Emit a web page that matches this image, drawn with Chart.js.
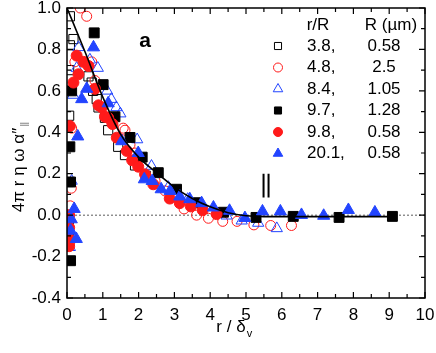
<!DOCTYPE html>
<html>
<head>
<meta charset="utf-8">
<script src="https://cdn.jsdelivr.net/npm/chart.js@4.4.0/dist/chart.umd.min.js"></script>
<style>
html, body { margin: 0; padding: 0; background: #fff; }
#wrap { width: 436px; height: 353px; }
</style>
</head>
<body>
<div id="wrap"><canvas id="chart1"></canvas></div>
<script>
// axis ticks
const xTicks = [0, 1, 2, 3, 4, 5, 6, 7, 8, 9, 10];
const yTicks = [-0.4, -0.2, 0.0, 0.2, 0.4, 0.6, 0.8, 1.0];

// legend text
const ratioLabels = ['3.8,', '4.8,', '8.4,', '9.7,', '9.8,', '20.1,'];
const radiusLabels = ['0.58', '2.5', '1.05', '1.28', '0.58', '0.58'];

// r/R = 3.8 (open squares)
const openSqX = [0.08, 0.18, 0.08, 0.06, 0.60, 0.69, 0.73, 0.83, 0.88, 0.06, 1.06, 1.15, 1.43, 1.62, 1.90, 2.20, 0.05, 0.05, 0.05];
const openSqY = [0.96, 0.85, 0.82, 0.70, 0.67, 0.64, 0.60, 0.56, 0.52, 0.48, 0.47, 0.41, 0.33, 0.29, 0.24, 0.19, 0.16, -0.02, -0.10];

// r/R = 4.8 (open circles)
const openCircX = [0.37, 0.55, 0.22, 0.69, 0.78, 1.57, 1.62, 1.76, 1.90, 2.46, 2.74, 3.27, 3.62, 3.95, 4.35, 4.75, 5.22, 5.69, 6.27, 0.13, 0.12, 0.09, 0.08];
const openCircY = [1.00, 0.96, 0.74, 0.74, 0.65, 0.42, 0.41, 0.34, 0.30, 0.165, 0.117, 0.03, 0.0, -0.015, -0.03, -0.03, -0.047, -0.05, -0.05, 0.42, 0.13, 0.045, -0.13];

// r/R = 8.4 (open triangles)
const openTriX = [0.32, 0.64, 0.86, 0.27, 0.17, 1.12, 1.24, 1.38, 1.49, 1.96, 2.36, 2.83, 3.37, 4.46, 4.88, 5.34, 5.86, 0.13, 0.08];
const openTriY = [0.81, 0.75, 0.71, 0.71, 0.58, 0.60, 0.56, 0.52, 0.49, 0.365, 0.237, 0.135, 0.077, -0.003, -0.027, -0.038, -0.064, 0.165, -0.155];

// r/R = 9.7 (filled squares)
const fillSqX = [0.76, 1.01, 1.34, 1.76, 2.10, 2.55, 3.06, 3.62, 4.37, 5.28, 6.32, 7.60, 9.09, 0.13, 0.08, 0.10, 0.10];
const fillSqY = [0.88, 0.63, 0.475, 0.375, 0.28, 0.205, 0.125, 0.06, 0.014, -0.011, -0.006, -0.011, -0.006, 0.60, 0.33, 0.16, -0.22];

// r/R = 9.8 (filled circles)
const fillCircX = [0.27, 0.46, 0.60, 0.32, 0.18, 0.78, 0.88, 0.97, 1.06, 1.15, 1.27, 1.39, 1.67, 1.82, 1.99, 2.18, 2.41, 2.87, 3.15, 3.46, 3.79, 4.18, 0.08, 0.06, 0.06, 0.07, 0.06];
const fillCircY = [0.77, 0.74, 0.72, 0.68, 0.64, 0.61, 0.53, 0.52, 0.475, 0.47, 0.44, 0.374, 0.31, 0.265, 0.234, 0.197, 0.149, 0.08, 0.058, 0.042, 0.024, 0.005, 0.43, 0.0, -0.06, -0.115, -0.15];

// r/R = 20.1 (filled triangles)
const fillTriX = [0.74, 0.55, 0.41, 1.15, 1.53, 1.99, 0.30, 2.16, 2.38, 2.63, 2.88, 3.15, 3.43, 3.76, 4.09, 4.54, 4.97, 5.46, 5.96, 6.55, 7.17, 7.86, 8.60, 0.20, 0.12, 0.10, 0.26];
const fillTriY = [0.81, 0.61, 0.56, 0.54, 0.357, 0.30, 0.38, 0.173, 0.165, 0.125, 0.117, 0.09, 0.077, 0.058, 0.037, 0.021, -0.014, 0.018, 0.018, 0.001, -0.003, 0.025, 0.013, 0.03, -0.02, -0.075, -0.115];

// theory curve
const fitX = [0, 0.5, 1, 1.5, 2, 2.5, 3, 3.5, 4, 4.5, 5, 5.5, 6, 7, 8, 9.1];
const fitY = [1.0, 0.79, 0.57, 0.39, 0.28, 0.205, 0.135, 0.08, 0.04, 0.012, -0.003, -0.007, -0.007, -0.007, -0.007, -0.007];

const RED = '#ff1a1a';
const BLUE = '#2244ff';

function pts(xs, ys) {
    return xs.map((x, i) => ({ x: x, y: ys[i] }));
}

const markers = [
    { style: 'rect', color: '#000', fill: false, r: 6.5, lr: 5 },
    { style: 'circle', color: RED, fill: false, r: 5, lr: 4.5 },
    { style: 'triangle', color: BLUE, fill: false, r: 6.5, lr: 5.5 },
    { style: 'rect', color: '#000', fill: true, r: 7, lr: 5 },
    { style: 'circle', color: RED, fill: true, r: 5.5, lr: 4.5 },
    { style: 'triangle', color: BLUE, fill: true, r: 7, lr: 5.5 }
];
const series = [
    pts(openSqX, openSqY), pts(openCircX, openCircY), pts(openTriX, openTriY),
    pts(fillSqX, fillSqY), pts(fillCircX, fillCircY), pts(fillTriX, fillTriY)
];

const datasets = series.map((d, i) => ({
    type: 'scatter',
    data: d,
    pointStyle: markers[i].style,
    pointRadius: markers[i].r,
    pointBorderWidth: 1,
    borderColor: markers[i].color,
    backgroundColor: markers[i].fill ? markers[i].color : 'rgba(0,0,0,0)',
    order: 6 - i
}));
datasets.push({
    type: 'line',
    data: pts(fitX, fitY),
    borderColor: '#000',
    borderWidth: 1.6,
    pointRadius: 0,
    cubicInterpolationMode: 'monotone',
    fill: false,
    order: 0
});

const FONT = '"Liberation Sans", Arial, sans-serif';

const decor = {
    id: 'decor',
    beforeDatasetsDraw(chart) {
        const c = chart.ctx, a = chart.chartArea;
        const ys = chart.scales.y;
        // dashed zero line
        c.save();
        c.strokeStyle = '#333';
        c.lineWidth = 0.8;
        c.setLineDash([2, 2]);
        c.beginPath();
        c.moveTo(a.left, ys.getPixelForValue(0));
        c.lineTo(a.right, ys.getPixelForValue(0));
        c.stroke();
        c.restore();
    },
    afterDraw(chart) {
        const c = chart.ctx, a = chart.chartArea;
        const xs = chart.scales.x, ys = chart.scales.y;
        c.save();
        // frame
        c.strokeStyle = '#000';
        c.lineWidth = 1.5;
        c.strokeRect(a.left, a.top, a.right - a.left, a.bottom - a.top);
        // inward ticks
        c.lineWidth = 1.2;
        c.beginPath();
        for (let v = 0; v <= 10.001; v += 0.5) {
            const px = xs.getPixelForValue(v);
            const len = Math.abs(v - Math.round(v)) < 0.01 ? 6 : 4;
            c.moveTo(px, a.bottom); c.lineTo(px, a.bottom - len);
            c.moveTo(px, a.top); c.lineTo(px, a.top + len);
        }
        for (let k = -4; k <= 10; k++) {
            const py = ys.getPixelForValue(k / 10);
            const len = k % 2 === 0 ? 6 : 4;
            c.moveTo(a.left, py); c.lineTo(a.left + len, py);
            c.moveTo(a.right, py); c.lineTo(a.right - len, py);
        }
        c.stroke();

        // panel label
        c.fillStyle = '#000';
        c.font = 'bold 21px ' + FONT;
        c.textAlign = 'center';
        c.textBaseline = 'middle';
        c.fillText('a', xs.getPixelForValue(2.18), ys.getPixelForValue(0.84));

        // || mark
        c.lineWidth = 2;
        c.beginPath();
        const bx = xs.getPixelForValue(5.56);
        c.moveTo(bx - 2.5, ys.getPixelForValue(0.2)); c.lineTo(bx - 2.5, ys.getPixelForValue(0.085));
        c.moveTo(bx + 2.5, ys.getPixelForValue(0.2)); c.lineTo(bx + 2.5, ys.getPixelForValue(0.085));
        c.stroke();

        // legend
        c.font = '17px ' + FONT;
        c.textBaseline = 'middle';
        c.textAlign = 'center';
        c.fillText('r/R', 318, 25);
        c.fillText('R (\u00b5m)', 391, 25);
        for (let i = 0; i < ratioLabels.length; i++) {
            const y = 46 + i * 21.5;
            const m = markers[i];
            c.save();
            c.strokeStyle = m.color;
            c.fillStyle = m.fill ? m.color : 'rgba(0,0,0,0)';
            c.lineWidth = 1;
            Chart.helpers.drawPoint(c, { pointStyle: m.style, radius: m.lr, borderWidth: 1 }, 278, y);
            c.restore();
            c.fillStyle = '#000';
            c.textAlign = 'left';
            c.fillText(ratioLabels[i], 307, y);
            c.textAlign = 'center';
            c.fillText(radiusLabels[i], 384, y);
        }

        // x title
        c.font = '17px ' + FONT;
        c.textAlign = 'left';
        c.textBaseline = 'alphabetic';
        const xt = 'r / \u03b4';
        const w = c.measureText(xt).width;
        const x0 = 231 - w / 2;
        c.fillText(xt, x0, 332);
        c.font = '11px ' + FONT;
        c.fillText('v', x0 + w + 1, 337);

        // y title
        c.translate(24, 166);
        c.rotate(-Math.PI / 2);
        c.font = '17px ' + FONT;
        const yt = '4\u03c0 r \u03b7 \u03c9 \u03b1\u2033';
        const yw = c.measureText(yt).width;
        c.textAlign = 'left';
        c.fillStyle = '#000';
        c.fillText(yt, -yw / 2 - 4, 0);
        c.font = '12px ' + FONT;
        c.fillStyle = '#888';
        c.fillText('\u2016', yw / 2 - 3, 5);
        c.restore();
    }
};

new Chart(document.getElementById('chart1'), {
    type: 'scatter',
    data: { datasets: datasets },
    plugins: [decor],
    options: {
        responsive: true,
        maintainAspectRatio: false,
        animation: false,
        layout: { padding: { top: 8, right: 11, left: 0, bottom: 0 } },
        scales: {
            x: {
                type: 'linear',
                min: xTicks[0],
                max: xTicks[xTicks.length - 1],
                afterBuildTicks: s => { s.ticks = xTicks.map(v => ({ value: v })); },
                ticks: { color: '#000', font: { size: 17, family: FONT }, padding: 7, maxRotation: 0 },
                grid: { display: false, drawTicks: false },
                border: { display: false },
                afterFit: s => { s.height = 55; s.paddingLeft = 0; s.paddingRight = 0; }
            },
            y: {
                type: 'linear',
                min: yTicks[0],
                max: yTicks[yTicks.length - 1],
                afterBuildTicks: s => { s.ticks = yTicks.map(v => ({ value: v })); },
                ticks: { color: '#000', font: { size: 17, family: FONT }, padding: 6, callback: v => v.toFixed(1) },
                grid: { display: false, drawTicks: false },
                border: { display: false },
                afterFit: s => { s.width = 67; s.paddingTop = 0; s.paddingBottom = 0; }
            }
        },
        plugins: {
            legend: { display: false },
            tooltip: { enabled: false }
        }
    }
});
</script>
</body>
</html>
